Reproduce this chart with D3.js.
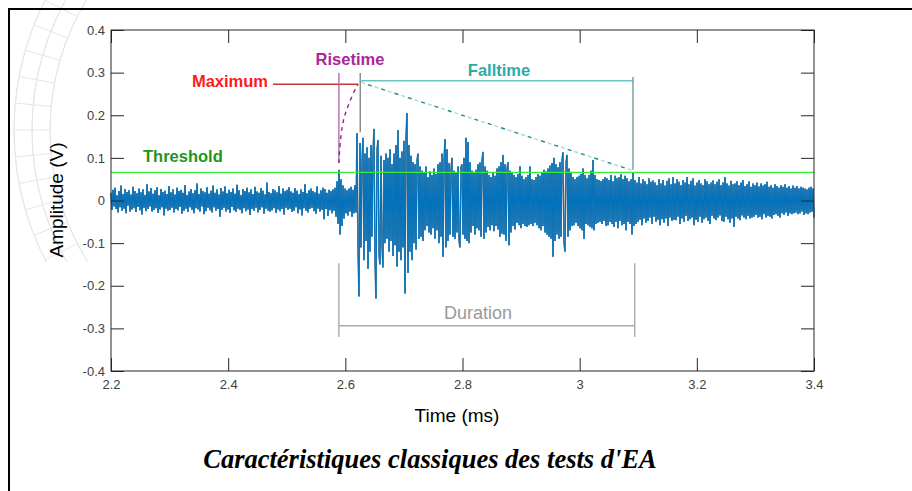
<!DOCTYPE html>
<html><head><meta charset="utf-8">
<script src="https://cdn.jsdelivr.net/npm/d3@7"></script>
<style>
html,body{margin:0;padding:0;background:#fff;}
svg{display:block;font-family:"Liberation Sans",Arial,sans-serif;}
</style></head>
<body><svg id="c" width="912" height="491"></svg>
<script>
// ---------- data ----------
const timeStart = 2.2, timeEnd = 3.4;          // ms
const threshold = 0.066;                        // V
const xTicks = [2.2, 2.4, 2.6, 2.8, 3.0, 3.2, 3.4];
const xTickLabels = ["2.2", "2.4", "2.6", "2.8", "3", "3.2", "3.4"];
const yTicks = [0.4, 0.3, 0.2, 0.1, 0, -0.1, -0.2, -0.3, -0.4];
const yTickLabels = ["0.4", "0.3", "0.2", "0.1", "0", "-0.1", "-0.2", "-0.3", "-0.4"];
// amplitude samples (mV), evenly spaced from timeStart to timeEnd
const amplitudeMV = [
18,-22,25,-14,30,-20,12,-28,22,-16,35,-24,15,-19,27,-30,20,-12,24,-26,
14,-21,32,-18,22,-27,17,-15,28,-23,19,-33,26,-17,13,-25,38,-20,21,-14,
29,-26,16,-22,24,-18,31,-29,12,-21,27,-16,20,-35,23,-19,15,-24,34,-22,
19,-17,26,-28,14,-20,30,-23,22,-15,25,-31,18,-24,36,-19,13,-27,21,-16,
27,-22,17,-30,24,-18,40,-21,15,-26,28,-14,22,-32,19,-25,31,-17,16,-23,
23,-28,35,-16,18,-24,26,-20,14,-38,29,-22,21,-17,33,-26,17,-21,25,-29,
20,-15,28,-23,16,-27,37,-19,24,-22,13,-30,27,-18,22,-25,30,-21,19,-34,
26,-20,15,-24,32,-17,21,-28,18,-22,29,-16,23,-31,14,-19,42,-24,20,-26,
17,-23,27,-18,24,-29,19,-21,34,-25,16,-20,28,-33,22,-17,25,-22,31,-19,
21,-27,18,-24,29,-16,23,-30,15,-21,26,-35,20,-18,38,-24,17,-28,24,-20,
28,-17,22,-25,19,-31,33,-19,16,-26,24,-22,30,-44,27,-20,18,-36,25,-23,
22,-30,26,-24,
30,-38,45,-55,72,-80,50,-60,35,-42,28,
-30,24,-35,28,-26,32,-38,25,-30,36,-28,
158,-120,-225,135,-110,95,147,-140,110,-95,125,-160,100,-120,130,-85,115,168,-150,-230,
120,142,-130,-150,105,-110,-157,95,-100,110,-90,100,-120,120,-95,85,-130,110,-105,130,
-155,165,-120,100,-140,115,-110,140,-218,150,205,-170,130,-120,105,-140,90,-100,85,-115,
95,110,-90,80,
-85,70,-95,65,-70,80,-60,55,-75,68,-80,60,-65,75,-90,62,-70,85,-100,90,
-85,110,-132,95,144,-110,120,-95,88,-80,75,100,-85,70,-90,65,-75,80,-95,-110,
78,85,-80,100,-90,147,-95,137,-100,90,
-75,70,-60,65,-80,72,-65,85,-70,90,-85,95,114,-90,80,-75,70,-62,60,-70,
55,-58,65,-72,58,-60,75,-68,80,-85,90,-78,107,-80,85,-95,75,90,-105,70,
-75,65,-60,60,-68,55,-52,62,-58,80,-65,58,-55,50,-60,55,-62,60,-58,80,
-55,50,-60,48,-52,55,-58,62,-65,58,-70,65,-60,72,-75,68,-80,75,-85,82,
-90,88,-132,100,-95,85,-80,78,-90,90,-85,95,113,-100,-120,90,107,-85,75,-70,
65,-60,55,-58,50,-52,55,-60,58,-65,62,-70,75,-90,60,-55,52,-58,60,-62,
70,-65,95,-70,60,-55,50,-52,48,-50,
45,-55,50,-48,55,-60,52,-58,48,-50,60,-55,45,-62,58,-50,52,-65,55,-48,
62,-58,50,-55,58,-70,52,-50,45,-55,50,-80,66,-60,
48,-55,42,-50,55,-45,40,-58,50,-42,45,-52,38,-48,52,-40,44,-55,47,-38,
42,-50,36,-45,50,-58,40,-44,48,-52,35,-42,46,-60,52,-40,38,-48,55,-45,
40,-46,50,-38,44,-55,36,-42,48,-50,42,-36,55,-48,38,-44,46,-40,52,-58,
35,-45,42,-50,48,-38,40,-52,36,-44,50,-40,45,-48,38,-55,42,-36,47,-42,
38,-46,44,-40,50,-35,36,-48,42,-50,55,-38,40,-44,35,-52,46,-42,38,-62,
40,-38,45,-42,36,-46,42,-35,48,-40,34,-44,38,-36,45,-42,32,-40,40,-38,
36,-34,42,-40,33,-38,40,-44,35,-32,38,-40,44,-36,32,-38,36,-42,30,-34,
38,-32,34,-36,30,-40,36,-30,32,-34,38,-28,30,-36,34,-30,28,-32,35,-30,
30,-28,34,-32,28,-30,32,-26,30,-34,28,-30,26,-32,30,-28,32,-26,28,-40
];
// annotation anchors (data units: ms, V)
const riseStart = 2.589, peakTime = 2.622, fallEnd = 3.091, durationEnd = 3.094;
const maxLevel = 0.273, fallLevel = 0.281;
const risePath = [[2.589, 0.088], [2.5905, 0.13], [2.595, 0.18], [2.6, 0.205], [2.611, 0.245], [2.6215, 0.273]];

// ---------- drawing ----------
const svg = d3.select("#c");
const W = 912, H = 491;
const x = d3.scaleLinear().domain([timeStart, timeEnd]).range([111, 814]);
const y = d3.scaleLinear().domain([-0.4, 0.4]).range([371, 30]);

// faint background watermark (decorative)
const wm = svg.append("g").attr("stroke", "#e6e6e6").attr("fill", "none").attr("stroke-width", 1);
const cx = 300, cy = 130;
[250, 268, 286].forEach(r => {
  wm.append("path").attr("d", d3.arc()({innerRadius: r, outerRadius: r, startAngle: -Math.PI * 0.68, endAngle: -Math.PI * 0.32}))
    .attr("transform", `translate(${cx},${cy})`);
});
for (let a = -0.68; a <= -0.32; a += 0.03) {
  const ang = a * Math.PI;
  wm.append("line")
    .attr("x1", cx + 250 * Math.sin(ang)).attr("y1", cy - 250 * Math.cos(ang))
    .attr("x2", cx + 286 * Math.sin(ang)).attr("y2", cy - 286 * Math.cos(ang));
}
svg.append("rect").attr("x", 100).attr("y", 0).attr("width", W).attr("height", H).attr("fill", "#fff");
svg.append("rect").attr("x", 0).attr("y", 262).attr("width", 110).attr("height", H).attr("fill", "#fff");

// page frame
svg.append("line").attr("x1", 8).attr("x2", W).attr("y1", 9).attr("y2", 9).attr("stroke", "#000").attr("stroke-width", 2);
svg.append("line").attr("x1", 9).attr("x2", 9).attr("y1", 8).attr("y2", H).attr("stroke", "#000").attr("stroke-width", 2);

// plot background
svg.append("rect").attr("x", 111).attr("y", 30).attr("width", 703).attr("height", 341).attr("fill", "#fff");

// signal
const N = amplitudeMV.length;
const pts = amplitudeMV.map((v, i) => [timeStart + (timeEnd - timeStart) * i / (N - 1), v / 1000]);
const line = d3.line().x(d => x(d[0])).y(d => y(d[1]));
svg.append("path").attr("d", line(pts)).attr("fill", "none").attr("stroke", "#6f8396").attr("stroke-width", 1.6);
svg.append("path").attr("d", line(pts)).attr("fill", "none").attr("stroke", "#0072bd").attr("stroke-width", 1);

// threshold
svg.append("line").attr("x1", x(timeStart)).attr("x2", x(timeEnd)).attr("y1", y(threshold)).attr("y2", y(threshold))
  .attr("stroke", "#33ee33").attr("stroke-width", 1.2);

// axes box with inward ticks
const axisColor = "#262626";
const gB = svg.append("g").attr("transform", `translate(0,${y(-0.4)})`)
  .call(d3.axisBottom(x).tickValues(xTicks).tickSize(-13).tickPadding(9).tickFormat((d, i) => xTickLabels[i]));
const gT = svg.append("g").attr("transform", `translate(0,${y(0.4)})`)
  .call(d3.axisTop(x).tickValues(xTicks).tickSize(-13).tickFormat(""));
const gL = svg.append("g").attr("transform", `translate(${x(timeStart)},0)`)
  .call(d3.axisLeft(y).tickValues(yTicks).tickSize(-13).tickPadding(6).tickFormat((d, i) => yTickLabels[i]));
const gR = svg.append("g").attr("transform", `translate(${x(timeEnd)},0)`)
  .call(d3.axisRight(y).tickValues(yTicks).tickSize(-13).tickFormat(""));
[gB, gT, gL, gR].forEach(g => {
  g.select(".domain").remove();
  g.selectAll(".tick line").attr("stroke", axisColor).attr("stroke-width", 1);
  g.selectAll(".tick text").attr("fill", "#404040").style("font-size", "13px").style("font-family", "Liberation Sans, Arial, sans-serif");
});
svg.append("rect").attr("x", x(timeStart)).attr("y", y(0.4)).attr("width", x(timeEnd) - x(timeStart)).attr("height", y(-0.4) - y(0.4))
  .attr("fill", "none").attr("stroke", axisColor).attr("stroke-width", 1);

// axis titles
svg.append("text").attr("x", 457).attr("y", 422).attr("text-anchor", "middle").attr("fill", "#000")
  .style("font-size", "19px").text("Time (ms)");
svg.append("text").attr("transform", "translate(63,200) rotate(-90)").attr("text-anchor", "middle").attr("fill", "#000")
  .style("font-size", "19px").text("Amplitude (V)");

// caption
svg.append("text").attr("x", 430).attr("y", 468).attr("text-anchor", "middle").attr("fill", "#000")
  .style("font-family", "Liberation Serif, Times New Roman, serif").style("font-weight", "bold").style("font-style", "italic")
  .style("font-size", "26.5px").text("Caractéristiques classiques des tests d'EA");

// ---------- annotations ----------
const ann = svg.append("g");
// Maximum
ann.append("line").attr("x1", 273).attr("x2", x(peakTime)).attr("y1", y(maxLevel)).attr("y2", y(maxLevel))
  .attr("stroke", "#c0393b").attr("stroke-width", 1.5);
ann.append("text").attr("x", 268).attr("y", y(maxLevel) + 3).attr("text-anchor", "end").attr("fill", "#ff1a1a")
  .style("font-size", "16.5px").style("font-weight", "bold").text("Maximum");
// Risetime
ann.append("line").attr("x1", x(riseStart)).attr("x2", x(riseStart)).attr("y1", y(0.299)).attr("y2", y(0.088))
  .attr("stroke", "#b160a8").attr("stroke-width", 1.3);
ann.append("path").attr("d", d3.line().curve(d3.curveBasis).x(d => x(d[0])).y(d => y(d[1]))(risePath))
  .attr("fill", "none").attr("stroke", "#8e2a86").attr("stroke-width", 1.4).attr("stroke-dasharray", "4,4");
ann.append("text").attr("x", 350).attr("y", 65).attr("text-anchor", "middle").attr("fill", "#a8289c")
  .style("font-size", "16.5px").style("font-weight", "bold").text("Risetime");
// Falltime
ann.append("line").attr("x1", x(peakTime) + 2).attr("x2", x(peakTime) + 2).attr("y1", y(0.299)).attr("y2", y(0.16))
  .attr("stroke", "#7d7d7d").attr("stroke-width", 1.3);
ann.append("line").attr("x1", x(peakTime) + 2).attr("x2", x(fallEnd)).attr("y1", y(fallLevel)).attr("y2", y(fallLevel))
  .attr("stroke", "#6cc3c3").attr("stroke-width", 1.5);
ann.append("line").attr("x1", x(fallEnd)).attr("x2", x(fallEnd)).attr("y1", y(0.29)).attr("y2", y(0.072))
  .attr("stroke", "#6a9d9d").attr("stroke-width", 1.4);
ann.append("line").attr("x1", x(peakTime) + 3).attr("x2", x(fallEnd) - 1).attr("y1", y(0.277)).attr("y2", y(0.071))
  .attr("stroke", "#a6dcdc").attr("stroke-width", 1.4).attr("stroke-dasharray", "4,10");
ann.append("line").attr("x1", x(peakTime) + 3).attr("x2", x(fallEnd) - 1).attr("y1", y(0.277)).attr("y2", y(0.071))
  .attr("stroke", "#1f8a8a").attr("stroke-width", 1.4).attr("stroke-dasharray", "0,7,4,3");
ann.append("text").attr("x", 499).attr("y", 76).attr("text-anchor", "middle").attr("fill", "#2aabab")
  .style("font-size", "16.5px").style("font-weight", "bold").text("Falltime");
// Threshold label
ann.append("text").attr("x", 143).attr("y", 162).attr("fill", "#1e961e")
  .style("font-size", "16.5px").style("font-weight", "bold").text("Threshold");
// Duration
const durC = "#ababab";
ann.append("line").attr("x1", x(riseStart)).attr("x2", x(durationEnd)).attr("y1", y(-0.294)).attr("y2", y(-0.294))
  .attr("stroke", durC).attr("stroke-width", 1.4);
[riseStart, durationEnd].forEach(t => ann.append("line").attr("x1", x(t)).attr("x2", x(t)).attr("y1", y(-0.147)).attr("y2", y(-0.32))
  .attr("stroke", durC).attr("stroke-width", 1.4));
ann.append("text").attr("x", 478).attr("y", 319).attr("text-anchor", "middle").attr("fill", "#9a9a9a")
  .style("font-size", "18px").text("Duration");
</script></body></html>
